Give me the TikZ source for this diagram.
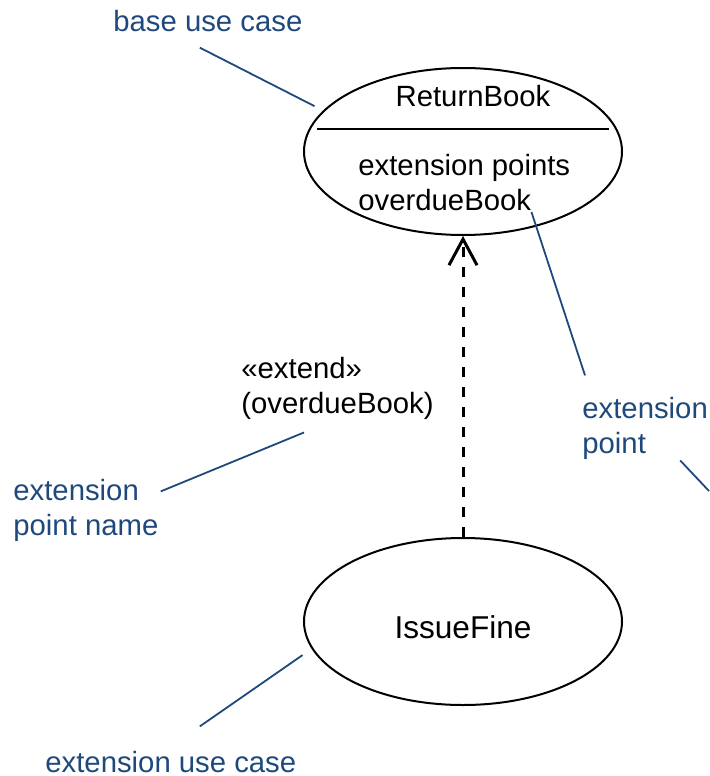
\documentclass[tikz,border=0pt]{standalone}
\usepackage{fontspec}
\setmainfont{Liberation Sans}
\usetikzlibrary{positioning}
\usetikzlibrary{shapes.geometric}
\usetikzlibrary{arrows.meta}
\definecolor{noteblue}{HTML}{1F497D}

\begin{document}
\begin{tikzpicture}
    [
    x=0.5pt, y=-0.5pt,
    node distance=235pt,
    on grid,
    every node/.style={inner sep=0pt, font=\fontsize{14.65}{17.5}\selectfont},
    usecase/.style={draw, ellipse, line width=1pt, minimum width=159pt, minimum height=83.5pt},
    note/.style={text=noteblue, align=left},
    note line/.style={draw=noteblue, line width=0.9pt},
    extend line/.style={line width=1.5pt, dash pattern=on 5pt off 5pt},
    ]
    \useasboundingbox (0,0) rectangle (709,776);

    \node[usecase] (uc_return) at (463,151.5) {};
    \draw[line width=1pt] ([shift={(-146,-22.5)}]uc_return.center) -- ([shift={(146,-22.5)}]uc_return.center);
    \node[anchor=base] (lbl_return) at (473,106) {ReturnBook};
    \node[anchor=base west] (lbl_points) at (358,175) {extension points};
    \node[anchor=base west] (lbl_overdue) at ([yshift=-17.5pt]lbl_points.base west) {overdueBook};

    \node[usecase, below=of uc_return] (uc_fine) {};
    \node[font=\fontsize{15.8}{19}\selectfont] (lbl_fine) at ([yshift=-3pt]uc_fine.center) {IssueFine};

    \draw[extend line, -{Straight Barb[length=13pt, width=14pt]}] (uc_fine) -- (uc_return);
    \node[anchor=base west, align=left] (lbl_extend) at (241,413) {«extend»\\(overdueBook)};

    \node[note, anchor=base west] (note_base) at (113,32) {base use case};
    \node[note, anchor=base west] (note_point) at (582,453) {extension\\point};
    \node[note, anchor=base west] (note_name) at (13,535) {extension\\point name};
    \node[note, anchor=base west] (note_ext) at (45,772) {extension use case};
    \coordinate (edge_right) at (709,491);

    \draw[note line] ([shift={(-8,15)}]note_base.south) -- ([shift={(-10,-3)}]uc_return.163);
    \draw[note line] ([yshift=-1pt]lbl_overdue.base east) -- ([shift={(3,-21)}]note_point.north west);
    \draw[note line] ([shift={(-28,1)}]note_point.south east) -- (edge_right);
    \draw[note line] ([shift={(63,13)}]lbl_extend.south west) -- ([shift={(2,13)}]note_name.north east);
    \draw[note line] ([shift={(-12,2)}]uc_fine.192) -- ([shift={(29,-24)}]note_ext.north);
\end{tikzpicture}
\end{document}
